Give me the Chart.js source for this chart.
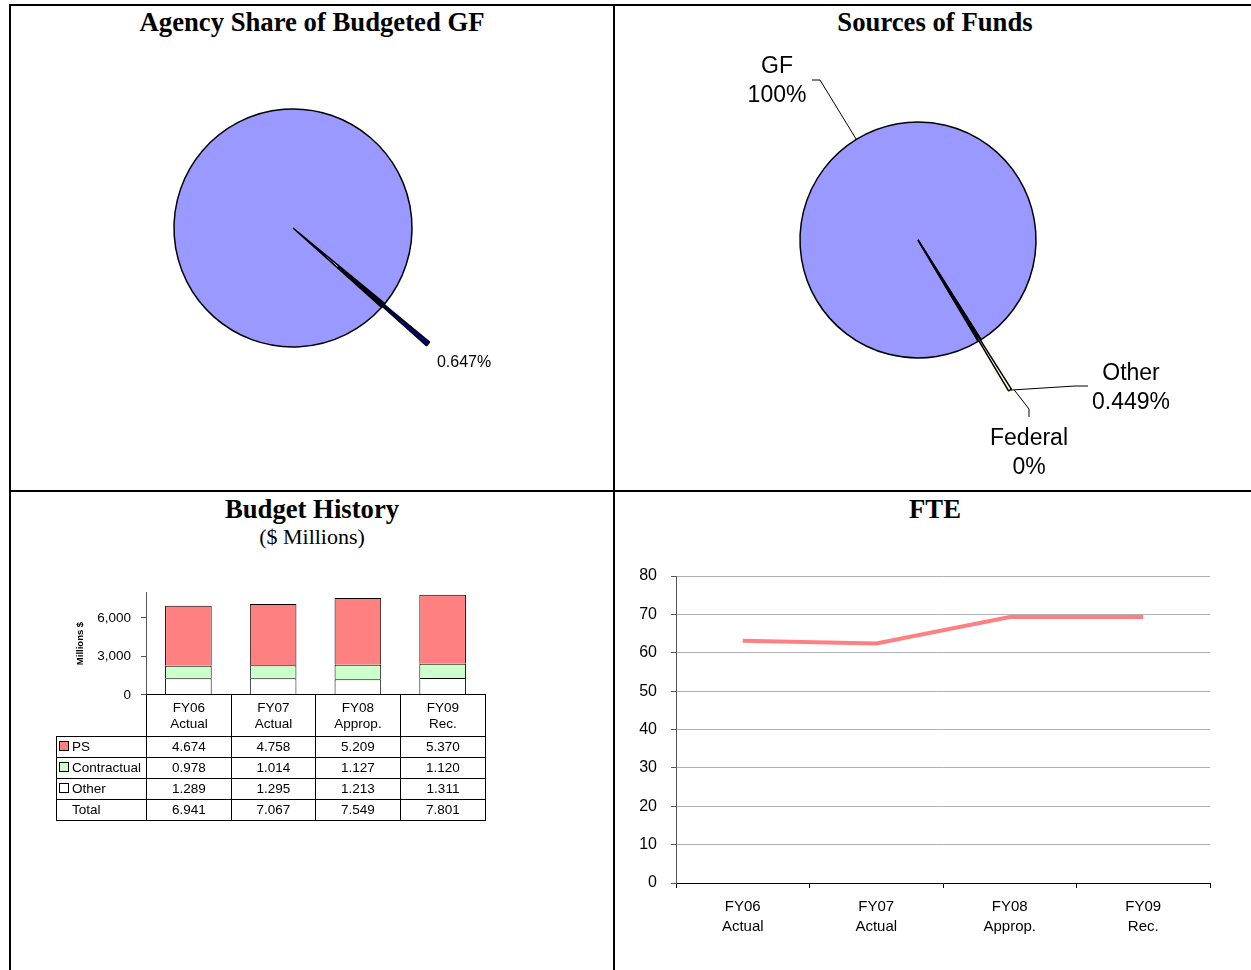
<!DOCTYPE html>
<html>
<head>
<meta charset="utf-8">
<script src="https://cdn.jsdelivr.net/npm/chart.js@4/dist/chart.umd.min.js"></script>
<style>
  body { margin: 0; background: #fff; width: 1251px; height: 970px; overflow: hidden; position: relative;
         font-family: "Liberation Sans", Arial, sans-serif; color: #000; }
  .ln { position: absolute; background: #000; }
  .box { position: absolute; }
  .ttl { position: absolute; text-align: center; font-family: "Liberation Serif", "Times New Roman", serif;
         font-weight: bold; font-size: 26.7px; line-height: 30px; }
  .sub { position: absolute; text-align: center; font-family: "Liberation Serif", "Times New Roman", serif;
         font-size: 22px; line-height: 30px; }
  #tbl { position: absolute; left: 56px; top: 694px; border-collapse: collapse; table-layout: fixed;
         font-size: 13.5px; }
  #tbl td { border: 1px solid #000; padding: 0; text-align: center; height: 20px; line-height: 16px; }
  #tbl tr.hd td { height: 41px; }
  #tbl td.nm { text-align: left; padding-left: 2px; }
  #tbl td.blank { border-top: none; border-left: none; }
  .sw { display: inline-block; width: 8px; height: 8px; border: 1px solid #000; margin-right: 3px; vertical-align: 0; }
</style>
</head>
<body>
<div class="ln" style="left:9px;top:4px;width:1242px;height:2px"></div>
<div class="ln" style="left:9px;top:4px;width:2px;height:966px"></div>
<div class="ln" style="left:613px;top:4px;width:2px;height:966px"></div>
<div class="ln" style="left:9px;top:490px;width:1242px;height:2px"></div>

<div class="ttl" style="left:11px;top:7px;width:602px">Agency Share of Budgeted GF</div>
<div class="ttl" style="left:617px;top:7px;width:636px">Sources of Funds</div>
<div class="ttl" style="left:11px;top:494px;width:602px">Budget History</div>
<div class="sub" style="left:11px;top:522px;width:602px">($ Millions)</div>
<div class="ttl" style="left:617px;top:494px;width:636px">FTE</div>

<div class="box" style="left:11px;top:6px;width:602px;height:484px"><canvas id="share"></canvas></div>
<div class="box" style="left:615px;top:6px;width:636px;height:484px"><canvas id="funds"></canvas></div>
<div class="box" style="left:60px;top:574px;width:440px;height:139px"><canvas id="budget"></canvas></div>
<div class="box" style="left:615px;top:492px;width:636px;height:478px"><canvas id="fte"></canvas></div>
<table id="tbl"></table>

<script>
const categories = [['FY06', 'Actual'], ['FY07', 'Actual'], ['FY08', 'Approp.'], ['FY09', 'Rec.']];

// budget history ($ millions, as printed in the table)
const psValues = [4.674, 4.758, 5.209, 5.370];
const contractualValues = [0.978, 1.014, 1.127, 1.120];
const otherValues = [1.289, 1.295, 1.213, 1.311];
const totalValues = [6.941, 7.067, 7.549, 7.801];
const budgetTickLabels = { 0: '0', 3: '3,000', 6: '6,000' };

// FTE
const fteValues = [63.1, 62.4, 69.3, 69.3];

// agency share of budgeted GF
const shareLabels = ['Agency', 'Rest of budgeted GF'];
const shareValues = [0.647, 99.353];
const shareText = ['0.647%', ''];

// sources of funds
const fundLabels = ['GF', 'Federal', 'Other'];
const fundValues = [99.551, 0, 0.449];
const fundText = ['100%', '0%', '0.449%'];

Chart.defaults.font.family = '"Liberation Sans", Arial, sans-serif';
Chart.defaults.color = '#000';
Chart.defaults.animation = false;
Chart.defaults.plugins.legend.display = false;
Chart.defaults.plugins.tooltip.enabled = false;

//exploded slices: the slice stays in place as a white gap, and a copy of the
//arc element is drawn pushed out along its middle angle
function sliceTip(arc, dist) {
  const mid = (arc.startAngle + arc.endAngle) / 2;
  const r = arc.outerRadius + dist;
  return { x: arc.x + Math.cos(mid) * r, y: arc.y + Math.sin(mid) * r, mid };
}

const explodePlugin = {
  id: 'explode',
  afterDatasetsDraw(chart, args, opts) {
    const ctx = chart.ctx;
    const arcs = chart.getDatasetMeta(0).data;
    arcs.forEach((arc, i) => {
      const d = opts.distance[i];
      if (!d || !arc.circumference) return;
      const mid = (arc.startAngle + arc.endAngle) / 2;
      const copy = Object.create(arc);
      copy.options = Object.assign({}, arc.options, { backgroundColor: opts.colors[i] });
      ctx.save();
      ctx.translate(Math.cos(mid) * d, Math.sin(mid) * d);
      copy.draw(ctx);
      ctx.restore();
    });
  }
};

const shareLabelPlugin = {
  id: 'shareLabel',
  afterDatasetsDraw(chart) {
    const ctx = chart.ctx;
    const d = chart.options.plugins.explode.distance[0];
    const t = sliceTip(chart.getDatasetMeta(0).data[0], d);
    ctx.save();
    ctx.font = '16px "Liberation Sans", Arial, sans-serif';
    ctx.fillStyle = '#000';
    ctx.textAlign = 'center';
    ctx.textBaseline = 'middle';
    ctx.fillText(shareText[0], t.x + 36, t.y + 19);
    ctx.restore();
  }
};

const fundLabelPlugin = {
  id: 'fundLabels',
  afterDatasetsDraw(chart) {
    const ctx = chart.ctx;
    const arcs = chart.getDatasetMeta(0).data;
    const dist = chart.options.plugins.explode.distance;
    const cx = arcs[0].x, cy = arcs[0].y;
    const gf = sliceTip(arcs[0], 0);
    const fed = sliceTip(arcs[1], dist[1]);
    const oth = sliceTip(arcs[2], dist[2]);
    ctx.save();
    ctx.strokeStyle = '#000';
    ctx.lineWidth = 1;
    const poly = pts => {
      ctx.beginPath();
      ctx.moveTo(pts[0][0], pts[0][1]);
      pts.slice(1).forEach(p => ctx.lineTo(p[0], p[1]));
      ctx.stroke();
    };
    poly([[cx - 106, cy - 160], [cx - 98, cy - 160], [gf.x, gf.y]]);
    poly([[cx + 170, cy + 146], [cx + 157, cy + 146], [oth.x + 1, oth.y]]);
    poly([[cx + 111, cy + 177], [cx + 111, cy + 169], [fed.x + 2, fed.y + 1]]);

    ctx.font = '23px "Liberation Sans", Arial, sans-serif';
    ctx.fillStyle = '#000';
    ctx.textAlign = 'center';
    ctx.textBaseline = 'middle';
    ctx.fillText(fundLabels[0], cx - 141, cy - 173);
    ctx.fillText(fundText[0], cx - 141, cy - 144);
    ctx.fillText(fundLabels[2], cx + 213, cy + 134);
    ctx.fillText(fundText[2], cx + 213, cy + 163);
    ctx.fillText(fundLabels[1], cx + 111, cy + 199);
    ctx.fillText(fundText[1], cx + 111, cy + 228);
    ctx.restore();
  }
};

new Chart(document.getElementById('share'), {
  type: 'pie',
  data: {
    labels: shareLabels,
    datasets: [{
      data: shareValues,
      backgroundColor: ['#FFFFFF', '#9999FF'],
      borderColor: '#000',
      borderWidth: 1.5,
      radius: 119,
      rotation: 129.5
    }]
  },
  options: {
    responsive: true,
    maintainAspectRatio: false,
    layout: { padding: { left: 0, top: 0, right: 38, bottom: 40 } },
    plugins: { explode: { distance: [59, 0], colors: ['#000080', null] } }
  },
  plugins: [explodePlugin, shareLabelPlugin]
});

new Chart(document.getElementById('funds'), {
  type: 'pie',
  data: {
    labels: fundLabels,
    datasets: [{
      data: fundValues,
      backgroundColor: ['#9999FF', '#FFFFFF', '#FFFFFF'],
      borderColor: '#000',
      borderWidth: 1.5,
      radius: 118,
      rotation: -210.7
    }]
  },
  options: {
    responsive: true,
    maintainAspectRatio: false,
    layout: { padding: { left: 0, top: 0, right: 30, bottom: 16 } },
    plugins: { explode: { distance: [0, 58, 58], colors: [null, '#993366', '#FFFFC0'] } }
  },
  plugins: [explodePlugin, fundLabelPlugin]
});

new Chart(document.getElementById('budget'), {
  type: 'bar',
  data: {
    labels: categories,
    datasets: [
      { label: 'Other', data: otherValues, backgroundColor: '#FFFFFF' },
      { label: 'Contractual', data: contractualValues, backgroundColor: '#CCFFCC' },
      { label: 'PS', data: psValues, backgroundColor: '#FF8080' }
    ]
  },
  options: {
    responsive: true,
    maintainAspectRatio: false,
    layout: { padding: { left: 0, top: 6, right: 15, bottom: 0 } },
    datasets: { bar: { borderColor: '#000', borderWidth: 1, barPercentage: 0.55, categoryPercentage: 1 } },
    scales: {
      x: {
        stacked: true,
        grid: { display: false },
        border: { display: true, color: '#000' },
        ticks: { display: false },
        afterFit: s => { s.height = 3; }
      },
      y: {
        stacked: true,
        min: 0,
        max: 8,
        afterFit: s => { s.width = 86; },
        border: { color: '#555' },
        grid: { drawOnChartArea: false, tickLength: 5, tickColor: '#555' },
        ticks: {
          stepSize: 3,
          includeBounds: false,
          padding: 10,
          font: { size: 13.5 },
          callback: v => budgetTickLabels[v] ?? ''
        },
        title: {
          display: true,
          text: 'Millions $',
          font: { size: 9.5, weight: 'bold' },
          padding: { top: 15, bottom: 0 }
        }
      }
    }
  }
});

new Chart(document.getElementById('fte'), {
  type: 'line',
  data: {
    labels: categories,
    datasets: [{
      data: fteValues,
      borderColor: '#FF8080',
      borderWidth: 4,
      pointRadius: 0,
      tension: 0
    }]
  },
  options: {
    responsive: true,
    maintainAspectRatio: false,
    layout: { padding: { left: 0, top: 84, right: 41, bottom: 0 } },
    scales: {
      x: {
        offset: true,
        afterFit: s => { s.height = 87; },
        border: { color: '#000' },
        grid: { offset: true, drawOnChartArea: false, tickLength: 5, tickColor: '#000' },
        ticks: { padding: 9, font: { size: 15, lineHeight: 1.33 } }
      },
      y: {
        min: 0,
        max: 80,
        afterFit: s => { s.width = 61; },
        border: { color: '#555' },
        grid: { color: '#b0b0b0', tickLength: 5, tickColor: '#555' },
        ticks: { stepSize: 10, padding: 14, font: { size: 16 } }
      }
    }
  }
});

// data table under the budget bars
(function buildTable() {
  const tbl = document.getElementById('tbl');
  const widths = [90, 85, 84, 85, 85];
  const cg = document.createElement('colgroup');
  widths.forEach(w => { const c = document.createElement('col'); c.style.width = w + 'px'; cg.appendChild(c); });
  tbl.appendChild(cg);

  const hd = tbl.insertRow();
  hd.className = 'hd';
  const blank = hd.insertCell();
  blank.className = 'blank';
  categories.forEach(c => { hd.insertCell().innerHTML = c.join('<br>'); });

  const rows = [
    ['PS', '#FF8080', psValues],
    ['Contractual', '#CCFFCC', contractualValues],
    ['Other', '#FFFFFF', otherValues],
    ['Total', null, totalValues]
  ];
  rows.forEach(([name, color, vals]) => {
    const tr = tbl.insertRow();
    const nm = tr.insertCell();
    nm.className = 'nm';
    if (color) {
      nm.innerHTML = '<span class="sw" style="background:' + color + '"></span>' + name;
    } else {
      nm.innerHTML = '<span style="display:inline-block;width:13px"></span>' + name;
    }
    vals.forEach(v => { tr.insertCell().textContent = v.toFixed(3); });
  });
})();
</script>
</body>
</html>
